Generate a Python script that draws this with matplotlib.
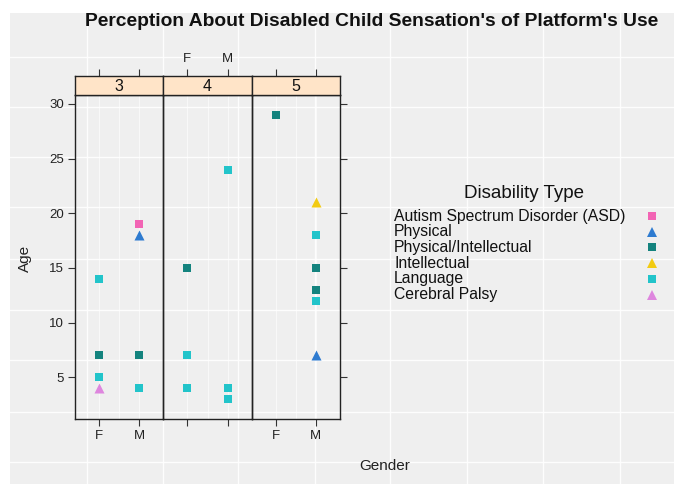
import matplotlib.pyplot as plt
from matplotlib.lines import Line2D

plt.rcParams['font.family'] = ['Liberation Sans', 'DejaVu Sans']

# ---------------- data ----------------
panels = [3, 3, 3, 3, 3, 3, 3, 3, 3,
          4, 4, 4, 4, 4, 4,
          5, 5, 5, 5, 5, 5, 5]
genders = ['F', 'F', 'F', 'F', 'M', 'M', 'M', 'M',
           'F',
           'F', 'F', 'F', 'M', 'M', 'M',
           'F', 'M', 'M', 'M', 'M', 'M', 'M']
ages = [14, 7, 5, 4, 19, 18, 7, 4,
        7,
        15, 7, 4, 24, 4, 3,
        29, 21, 18, 15, 13, 12, 7]
types = ['Language', 'Physical/Intellectual', 'Language', 'Cerebral Palsy',
         'Autism Spectrum Disorder (ASD)', 'Physical', 'Physical/Intellectual', 'Language',
         'Physical/Intellectual',
         'Physical/Intellectual', 'Language', 'Language',
         'Language', 'Language', 'Language',
         'Physical/Intellectual', 'Intellectual', 'Language', 'Physical/Intellectual',
         'Physical/Intellectual', 'Language', 'Physical']

type_names = ['Autism Spectrum Disorder (ASD)', 'Physical', 'Physical/Intellectual',
              'Intellectual', 'Language', 'Cerebral Palsy']
type_colors = ['#F264B4', '#2E7BD0', '#14837E', '#F2CB12', '#22C4CA', '#DE86DE']
type_markers = ['s', '^', 's', '^', 's', '^']

panel_levels = [3, 4, 5]
gender_levels = ['F', 'M']
y_ticks = [5, 10, 15, 20, 25, 30]

W, H = 674, 484


def fig_rect(x0, y0, x1, y1):
    # pixel box (top-left origin) -> figure fraction rect
    return [x0 / W, 1 - y1 / H, (x1 - x0) / W, (y1 - y0) / H]


fig = plt.figure(figsize=(W / 100, H / 100), dpi=100)
fig.patch.set_facecolor('white')

# ---------------- gray background with grid ----------------
bg = fig.add_axes(fig_rect(10, 13, W, H), zorder=0)
bg.set_facecolor('#EFEFEF')
bg.set_xlim(10, W)
bg.set_ylim(H, 13)
for gx in [87, 163, 238, 315, 390, 467, 543, 620]:
    bg.axvline(gx, color='white', lw=1.0, alpha=0.9)
for gy in [57, 107, 157, 207, 259, 310, 360, 412, 462]:
    bg.axhline(gy, color='white', lw=1.0, alpha=0.9)
bg.set_xticks([])
bg.set_yticks([])
for s in bg.spines.values():
    s.set_visible(False)

# ---------------- panels ----------------
px = [75, 163.3, 251.7, 340]
top_strip, top_panel, bottom_panel = 76, 95, 419
ylim = (1.18, 30.82)
xlim = (0.4, 2.6)
tick_kw = dict(direction='out', length=5, width=0.8, color='#333333', labelsize=9.5,
               labelcolor='#222222', pad=3)

for i, lev in enumerate(panel_levels):
    ax = fig.add_axes(fig_rect(px[i], top_panel, px[i + 1], bottom_panel), zorder=2)
    ax.patch.set_alpha(0)
    ax.set_xlim(*xlim)
    ax.set_ylim(*ylim)
    for xv in [1, 1.5, 2]:
        ax.axvline(xv, color='white', lw=0.8, alpha=0.6, zorder=0)

    for t, c, m in zip(type_names, type_colors, type_markers):
        xs = [gender_levels.index(g) + 1 for p, g, tt in zip(panels, genders, types)
              if p == lev and tt == t]
        ys = [a for p, a, tt in zip(panels, ages, types) if p == lev and tt == t]
        ax.scatter(xs, ys, marker=m, s=34 if m == 's' else 52, color=c,
                   linewidths=0, zorder=3, clip_on=False)

    ax.set_xticks([1, 2])
    ax.set_xticklabels(gender_levels if i != 1 else ['', ''])
    ax.tick_params(axis='x', **tick_kw)
    ax.set_yticks(y_ticks)
    if i == 0:
        ax.tick_params(axis='y', left=True, right=False, labelleft=True, **tick_kw)
    elif i == 2:
        ax.tick_params(axis='y', left=False, right=True, labelleft=False,
                       labelright=False, **tick_kw)
    else:
        ax.tick_params(axis='y', left=False, right=False, labelleft=False)
    for s in ax.spines.values():
        s.set_color('#222222')
        s.set_linewidth(1.0)

    # strip with level label, top ticks sit above it
    st = fig.add_axes(fig_rect(px[i], top_strip, px[i + 1], top_panel), zorder=2)
    st.set_facecolor('#FFE4C8')
    st.set_xlim(*xlim)
    st.set_ylim(0, 1)
    st.set_yticks([])
    st.set_xticks([1, 2])
    st.xaxis.tick_top()
    st.set_xticklabels(gender_levels if i == 1 else ['', ''])
    st.tick_params(axis='x', **tick_kw)
    st.text(0.5, 0.45, str(lev), transform=st.transAxes, ha='center', va='center',
            fontsize=11.5, color='#111111')
    for s in st.spines.values():
        s.set_color('#222222')
        s.set_linewidth(1.0)

# ---------------- titles and labels ----------------
fig.text(372 / W, 1 - 21 / H, "Perception About Disabled Child Sensation's of Platform's Use",
         ha='center', va='center', fontsize=13.9, fontweight='bold', color='#111111')
fig.text(25 / W, 1 - 258 / H, 'Age', rotation=90, ha='center', va='center',
         fontsize=11, color='#222222')
fig.text(385 / W, 1 - 466 / H, 'Gender', ha='center', va='center',
         fontsize=11, color='#222222')

# ---------------- legend ----------------
fig.text(524 / W, 1 - 193 / H, 'Disability Type', ha='center', va='center',
         fontsize=13.5, color='#111111')
for k, (t, c, m) in enumerate(zip(type_names, type_colors, type_markers)):
    yy = 1 - (216 + k * 15.7) / H
    fig.text(394 / W, yy, t, ha='left', va='center', fontsize=11.3, color='#111111')
    fig.add_artist(Line2D([652 / W], [yy], marker=m, color=c, linestyle='none',
                          markersize=6.2 if m == 's' else 7.5, markeredgewidth=0,
                          transform=fig.transFigure))

fig.savefig('out.png', dpi=100)
